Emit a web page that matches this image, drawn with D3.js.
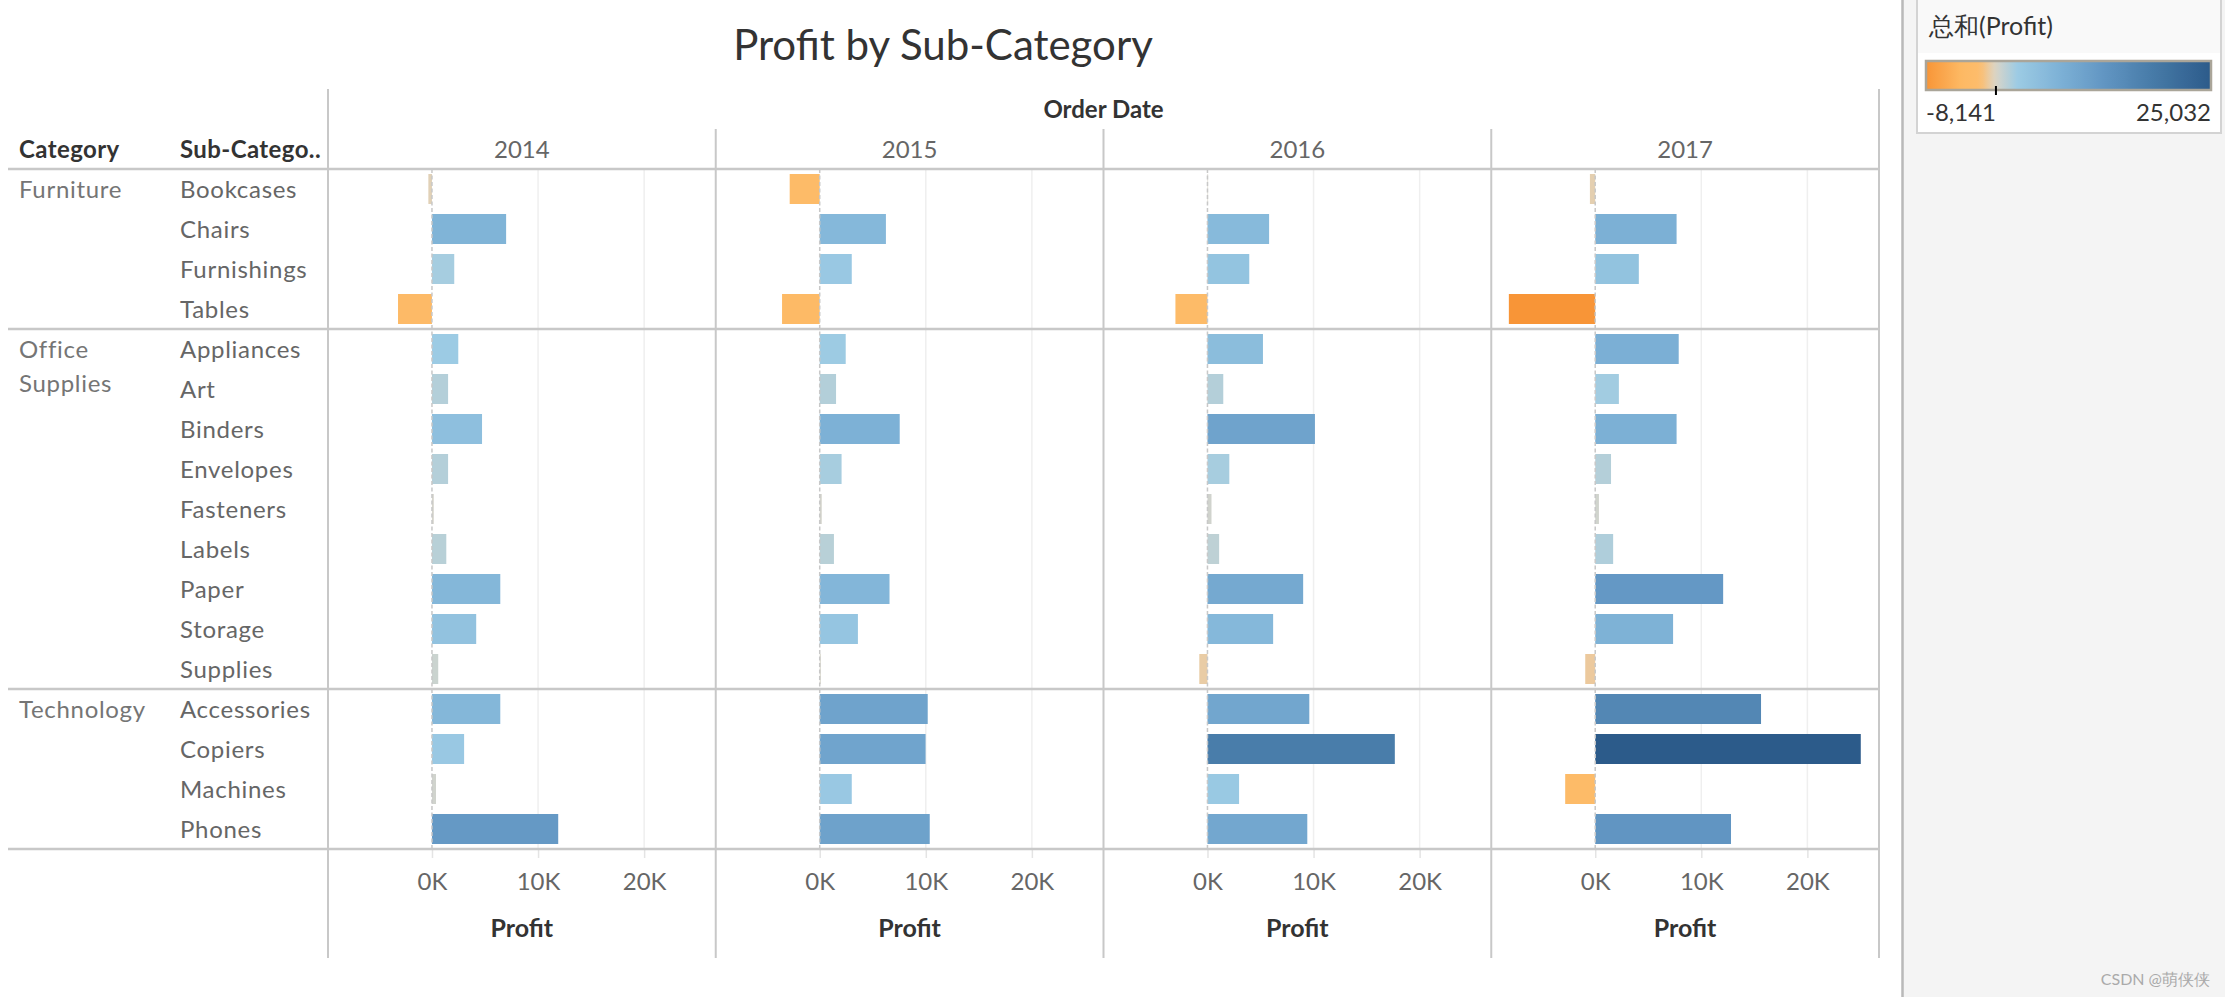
<!DOCTYPE html>
<html>
<head>
<meta charset="utf-8">
<script src="https://cdn.jsdelivr.net/npm/d3@7"></script>
<style>
	body { margin: 0; background: #fff; }
	text { font-family: Lato, 'Noto Sans', sans-serif; }
</style>
</head>
<body>
<div id="chart-area"></div>
<script>
// DATA

const years = ['2014', '2015', '2016', '2017']
const categories = ['Furniture', 'Office Supplies', 'Technology']
const subCategories = ['Bookcases', 'Chairs', 'Furnishings', 'Tables',
	'Appliances', 'Art', 'Binders', 'Envelopes', 'Fasteners', 'Labels', 'Paper', 'Storage', 'Supplies',
	'Accessories', 'Copiers', 'Machines', 'Phones']
const subCategoryParent = ['Furniture', 'Furniture', 'Furniture', 'Furniture',
	'Office Supplies', 'Office Supplies', 'Office Supplies', 'Office Supplies', 'Office Supplies',
	'Office Supplies', 'Office Supplies', 'Office Supplies', 'Office Supplies',
	'Technology', 'Technology', 'Technology', 'Technology']

const profit2014 = [-340, 6990, 2100, -3200, 2480, 1520, 4720, 1520, 170, 1350, 6440, 4170, 590, 6440, 3030, 380, 11900]
const profit2015 = [-2830, 6240, 3020, -3550, 2450, 1540, 7540, 2060, 190, 1340, 6580, 3600, 100, 10180, 9980, 3020, 10370]
const profit2016 = [60, 5810, 3940, -3020, 5230, 1490, 10130, 2060, 380, 1100, 9020, 6190, -770, 9600, 17660, 2980, 9410]
const profit2017 = [-500, 7670, 4110, -8141, 7870, 2230, 7670, 1490, 350, 1690, 12060, 7340, -940, 15630, 25032, -2830, 12800]
const profitByYear = [profit2014, profit2015, profit2016, profit2017]

const profitTicks = [0, 10000, 20000]

let width = 2225
let height = 997

let svg = d3.select('#chart-area').append('svg')
	.attr('width', width)
	.attr('height', height)

// flat table for the join
let rows = []
years.forEach((year, i) => {
	subCategories.forEach((sub, j) => {
		rows.push({ year: year, sub: sub, profit: profitByYear[i][j] })
	})
})

// SCALES

let paneX = d3.scaleBand()
	.domain(years)
	.range([328, 1879])

let x = d3.scaleLinear()
	.domain([-9800, 26750])
	.range([0, paneX.bandwidth()])

let y = d3.scaleBand()
	.domain(subCategories)
	.range([169, 849])
	.paddingInner(0.25)
	.paddingOuter(0.125)

let [minProfit, maxProfit] = d3.extent(rows, d => d.profit)

// tableau orange-blue diverging, centred on 0
let color = d3.scaleLinear()
	.domain([minProfit, -4000, -1800, -900, -300, 0, 1500, 2500, 7500, 12500, 17500, maxProfit])
	.range(['#f89537', '#fdb964', '#fdbd6c', '#ebca9f', '#e0d1b9', '#d9d5c9',
		'#b4cfd9', '#9ccbe4', '#7db1d6', '#6296c3', '#4a7eab', '#2c5b8a'])

// tableau prints a plain hyphen for negatives
let fmt = v => d3.format(',')(v).replace('\u2212', '-')

// RIGHT PANEL

svg.append('rect')
	.attr('x', 1902).attr('y', 0)
	.attr('width', width - 1902).attr('height', height)
	.attr('fill', '#f4f4f4')
svg.append('line')
	.attr('x1', 1902.5).attr('x2', 1902.5).attr('y1', 0).attr('y2', height)
	.attr('stroke', '#b9b9b9').attr('stroke-width', 2.5)

// PANES

let panes = svg.selectAll('g.pane')
	.data(years)
	.enter().append('g')
		.attr('class', 'pane')
		.attr('transform', d => 'translate(' + paneX(d) + ', 0)')

// gridlines
panes.selectAll('line.grid')
	.data(profitTicks.filter(t => t != 0))
	.enter().append('line')
		.attr('class', 'grid')
		.attr('x1', d => x(d)).attr('x2', d => x(d))
		.attr('y1', 169).attr('y2', 849)
		.attr('stroke', '#efefef')
		.attr('stroke-width', 1.5)

// bars
panes.selectAll('rect.bar')
	.data(year => rows.filter(r => r.year == year))
	.enter().append('rect')
		.attr('class', 'bar')
		.attr('x', d => x(Math.min(0, d.profit)))
		.attr('y', d => y(d.sub))
		.attr('width', d => Math.abs(x(d.profit) - x(0)))
		.attr('height', y.bandwidth())
		.attr('fill', d => color(d.profit))

// zero line
panes.append('line')
	.attr('x1', x(0)).attr('x2', x(0))
	.attr('y1', 169).attr('y2', 849)
	.attr('stroke', '#c8c8c8')
	.attr('stroke-width', 1.5)
	.attr('stroke-dasharray', '4,2.5')

// axes
panes.append('g')
	.attr('class', 'x-axis')
	.attr('transform', 'translate(0, 849)')
	.call(d3.axisBottom(x)
		.tickValues(profitTicks)
		.tickFormat(d => d / 1000 + 'K')
		.tickSize(9)
		.tickPadding(15))
	.call(g => g.select('.domain').remove())
	.call(g => g.selectAll('.tick line').attr('stroke', '#e4e4e4').attr('stroke-width', 1.5))
	.call(g => g.selectAll('.tick text')
		.attr('font-size', 24)
		.attr('font-family', 'Lato, sans-serif')
		.attr('fill', '#666'))

panes.append('text')
	.attr('x', paneX.bandwidth() / 2)
	.attr('y', 937)
	.attr('text-anchor', 'middle')
	.attr('font-size', 25)
	.attr('font-weight', 'bold')
	.attr('fill', '#333')
	.text('Profit')

panes.append('text')
	.attr('x', paneX.bandwidth() / 2)
	.attr('y', 158)
	.attr('text-anchor', 'middle')
	.attr('font-size', 24)
	.attr('fill', '#666')
	.text(d => d)

// ROW LINES

let rowTop = d => y(d) - y.step() * y.paddingInner() / 2
let rowBottom = d => y(d) + y.bandwidth() + y.step() * y.paddingInner() / 2

let categoryBounds = categories.map(cat => {
	let subs = subCategories.filter((s, i) => subCategoryParent[i] == cat)
	return { cat: cat, top: rowTop(subs[0]), bottom: rowBottom(subs[subs.length - 1]) }
})

let hLines = [169].concat(categoryBounds.map(c => c.bottom))
svg.selectAll('line.hline')
	.data(hLines)
	.enter().append('line')
		.attr('class', 'hline')
		.attr('x1', 8).attr('x2', 1880)
		.attr('y1', d => d).attr('y2', d => d)
		.attr('stroke', '#c8c8c8')
		.attr('stroke-width', 2.5)

// outer pane edges and inner year separators
svg.selectAll('line.vline')
	.data(years)
	.enter().append('line')
		.attr('class', 'vline')
		.attr('x1', d => paneX(d)).attr('x2', d => paneX(d))
		.attr('y1', (d, i) => i == 0 ? 89 : 129).attr('y2', 958)
		.attr('stroke', '#c8c8c8')
		.attr('stroke-width', 2)
svg.append('line')
	.attr('x1', paneX.range()[1]).attr('x2', paneX.range()[1])
	.attr('y1', 89).attr('y2', 958)
	.attr('stroke', '#c8c8c8')
	.attr('stroke-width', 2)

// ROW LABELS

svg.selectAll('text.sub')
	.data(subCategories)
	.enter().append('text')
		.attr('class', 'sub')
		.attr('x', 180)
		.attr('y', d => y(d) + y.bandwidth() / 2 + 9)
		.attr('font-size', 24)
		.attr('letter-spacing', 0.7)
		.attr('fill', '#666')
		.text(d => d)

let catLabels = svg.selectAll('text.cat')
	.data(categoryBounds)
	.enter().append('text')
		.attr('class', 'cat')
		.attr('font-size', 24)
		.attr('letter-spacing', 0.7)
		.attr('fill', '#757575')
catLabels.selectAll('tspan')
	.data(d => (d.cat == 'Office Supplies' ? ['Office', 'Supplies'] : [d.cat]).map((w, i) => ({ w: w, i: i, top: d.top })))
	.enter().append('tspan')
		.attr('x', 19)
		.attr('y', d => d.top + y.step() / 2 + 9 + d.i * 34)
		.text(d => d.w)

// HEADERS

svg.append('text')
	.attr('x', 943).attr('y', 60)
	.attr('text-anchor', 'middle')
	.attr('font-size', 42)
	.attr('fill', '#333')
	.text('Profit by Sub-Category')

svg.append('text')
	.attr('x', (paneX.range()[0] + paneX.range()[1]) / 2).attr('y', 118)
	.attr('text-anchor', 'middle')
	.attr('font-size', 24)
	.attr('font-weight', 'bold')
	.attr('fill', '#333')
	.text('Order Date')

svg.append('text')
	.attr('x', 19).attr('y', 158)
	.attr('font-size', 24)
	.attr('font-weight', 'bold')
	.attr('letter-spacing', 0.4)
	.attr('fill', '#333')
	.text('Category')

svg.append('text')
	.attr('x', 180).attr('y', 158)
	.attr('font-size', 24)
	.attr('font-weight', 'bold')
	.attr('letter-spacing', 0.4)
	.attr('fill', '#333')
	.text('Sub-Catego..')

// LEGEND

let legend = svg.append('g').attr('class', 'legend')

legend.append('rect')
	.attr('x', 1917).attr('y', -2)
	.attr('width', 304).attr('height', 135)
	.attr('fill', '#fff')
	.attr('stroke', '#d3d3d3').attr('stroke-width', 2)
legend.append('rect')
	.attr('x', 1918).attr('y', 0)
	.attr('width', 302).attr('height', 53)
	.attr('fill', '#f9f9f9')

legend.append('text')
	.attr('x', 1929).attr('y', 35)
	.attr('font-size', 25)
	.attr('font-family', "Lato, 'Noto Sans CJK SC', sans-serif")
	.attr('fill', '#333')
	.text('总和(Profit)')

let legendX = d3.scaleLinear()
	.domain([minProfit, maxProfit])
	.range([1926, 2211])

let gradient = svg.append('defs').append('linearGradient')
	.attr('id', 'profit-gradient')
gradient.selectAll('stop')
	.data(d3.range(0, 1.0001, 0.02))
	.enter().append('stop')
		.attr('offset', d => d * 100 + '%')
		.attr('stop-color', d => color(minProfit + d * (maxProfit - minProfit)))

legend.append('rect')
	.attr('x', legendX.range()[0]).attr('y', 61)
	.attr('width', legendX.range()[1] - legendX.range()[0]).attr('height', 29)
	.attr('fill', 'url(#profit-gradient)')
	.attr('stroke', '#aaa599').attr('stroke-width', 2.5)

legend.append('line')
	.attr('x1', legendX(0)).attr('x2', legendX(0))
	.attr('y1', 86).attr('y2', 95)
	.attr('stroke', '#000').attr('stroke-width', 2)

legend.append('text')
	.attr('x', legendX.range()[0]).attr('y', 121)
	.attr('font-size', 24)
	.attr('fill', '#333')
	.text(fmt(minProfit))
legend.append('text')
	.attr('x', legendX.range()[1]).attr('y', 121)
	.attr('text-anchor', 'end')
	.attr('font-size', 24)
	.attr('fill', '#333')
	.text(fmt(maxProfit))

// watermark
svg.append('text')
	.attr('x', 2210).attr('y', 985)
	.attr('text-anchor', 'end')
	.attr('font-size', 16)
	.attr('font-family', "'Noto Sans CJK SC', sans-serif")
	.attr('fill', '#aaa')
	.text('CSDN @萌侠侠')
</script>
</body>
</html>
